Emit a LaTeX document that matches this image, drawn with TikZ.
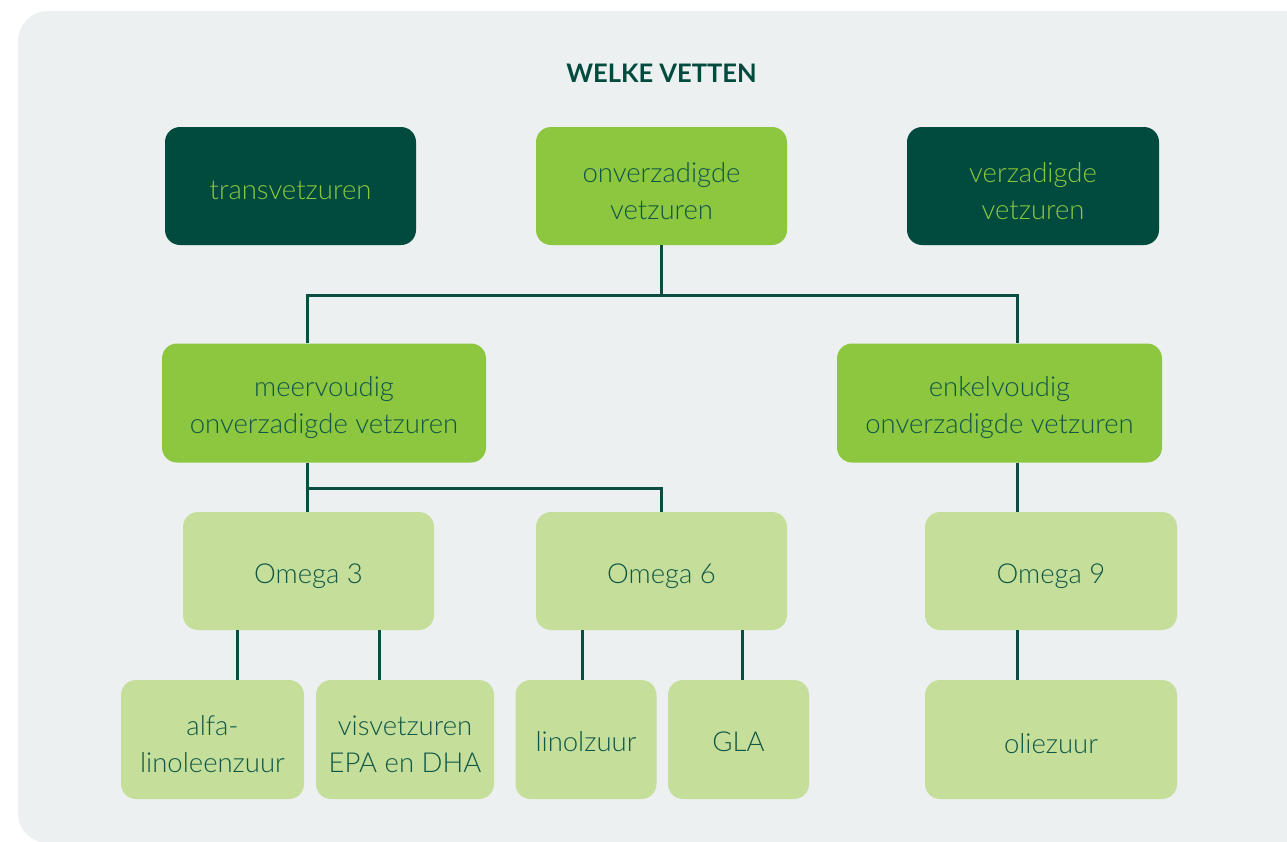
\documentclass[tikz,border=0pt]{standalone}
\usepackage{fontspec}
\IfFontExistsTF{Lato Light}{\setmainfont{Lato Light}[BoldFont=Lato Bold]}{\setmainfont{Lato}}
\definecolor{bgc}{HTML}{ECF0F1}
\definecolor{darkg}{HTML}{004B3D}
\definecolor{brightg}{HTML}{8DC63F}
\definecolor{lightg}{HTML}{C5DF9B}
\definecolor{txtg}{HTML}{0F5746}
\definecolor{linec}{HTML}{0B4D40}
\tikzset{
  box/.style={rectangle, rounded corners=15pt, inner sep=0pt, minimum height=118pt},
  darkbox/.style={box, fill=darkg},
  midbox/.style={box, fill=brightg},
  lightbox/.style={box, fill=lightg},
  txt/.style={align=center, inner sep=0pt, font=\fontsize{27.5}{37}\selectfont, text=txtg},
  dtxt/.style={txt, text=brightg},
  conn/.style={draw=linec, line width=3pt},
}
\begin{document}
\begin{tikzpicture}[x=1pt,y=-1pt]
\useasboundingbox (0,0) rectangle (1287,841);
\fill[bgc, rounded corners=30pt] (18,11) rectangle (1340,843);
\node[font=\bfseries\fontsize{25.5}{30}\selectfont, text=darkg] (title) at (661.5,73) {WELKE VETTEN};
% boxes
\node[darkbox, minimum width=251pt] (trans) at (290.5,186) {};
\node[midbox, minimum width=251pt] (onv) at (661.5,186) {};
\node[darkbox, minimum width=252pt] (verz) at (1033,186) {};
\node[midbox, minimum width=324pt, minimum height=119pt] (meer) at (324,403) {};
\node[midbox, minimum width=325pt, minimum height=119pt] (enkel) at (999.5,403) {};
\node[lightbox, minimum width=251pt] (om3) at (308.5,571) {};
\node[lightbox, minimum width=251pt] (om6) at (661.5,571) {};
\node[lightbox, minimum width=252pt] (om9) at (1051,571) {};
\node[lightbox, minimum width=183pt, minimum height=119pt] (alfa) at (212.5,739.5) {};
\node[lightbox, minimum width=178pt, minimum height=119pt] (vis) at (405,739.5) {};
\node[lightbox, minimum width=141pt, minimum height=119pt] (lin) at (586,739.5) {};
\node[lightbox, minimum width=141pt, minimum height=119pt] (gla) at (738.5,739.5) {};
\node[lightbox, minimum width=252pt, minimum height=119pt] (olie) at (1051,739.5) {};
% texts
\node[dtxt] (trans-t) at ([yshift=-4pt]trans.center) {transvetzuren};
\node[txt] (onv-t) at ([yshift=-5pt]onv.center) {onverzadigde\\vetzuren};
\node[dtxt] (verz-t) at ([yshift=-5pt]verz.center) {verzadigde\\vetzuren};
\node[txt] (meer-t) at ([yshift=-5pt]meer.center) {meervoudig\\onverzadigde vetzuren};
\node[txt] (enkel-t) at ([yshift=-5pt]enkel.center) {enkelvoudig\\onverzadigde vetzuren};
\node[txt] (om3-t) at ([yshift=-5pt]om3.center) {Omega 3};
\node[txt] (om6-t) at ([yshift=-5pt]om6.center) {Omega 6};
\node[txt] (om9-t) at ([yshift=-5pt]om9.center) {Omega 9};
\node[txt] (alfa-t) at ([yshift=-5pt]alfa.center) {alfa-\\linoleenzuur};
\node[txt] (vis-t) at ([yshift=-5pt]vis.center) {visvetzuren\\EPA en DHA};
\node[txt] (lin-t) at ([yshift=-2pt]lin.center) {linolzuur};
\node[txt] (gla-t) at ([yshift=-2pt]gla.center) {GLA};
\node[txt] (olie-t) at ([yshift=-4pt]olie.center) {oliezuur};
\coordinate (bar1) at (661.5,295);
\coordinate (bar2) at (661.5,488);
% level 1
\draw[conn] (onv.south) -- (bar1);
\draw[conn] (bar1) -| ([xshift=-17pt]meer.north);
\draw[conn] (bar1) -| ([xshift=17.5pt]enkel.north);
% level 2
\draw[conn] ([xshift=-17pt]meer.south) -- ([xshift=-17pt]meer.south |- om3.north);
\draw[conn] ([xshift=-17pt]meer.south |- bar2) -| (om6.north);
\draw[conn] ([xshift=17.5pt]enkel.south) -- ([xshift=-34pt]om9.north);
% level 3
\draw[conn] ([xshift=-71.5pt]om3.south) -- ([xshift=-71.5pt]om3.south |- alfa.north);
\draw[conn] ([xshift=70.5pt]om3.south) -- ([xshift=70.5pt]om3.south |- vis.north);
\draw[conn] ([xshift=-79.5pt]om6.south) -- ([xshift=-79.5pt]om6.south |- lin.north);
\draw[conn] ([xshift=80.5pt]om6.south) -- ([xshift=80.5pt]om6.south |- gla.north);
\draw[conn] ([xshift=-34pt]om9.south) -- ([xshift=-34pt]olie.north);
\end{tikzpicture}
\end{document}
